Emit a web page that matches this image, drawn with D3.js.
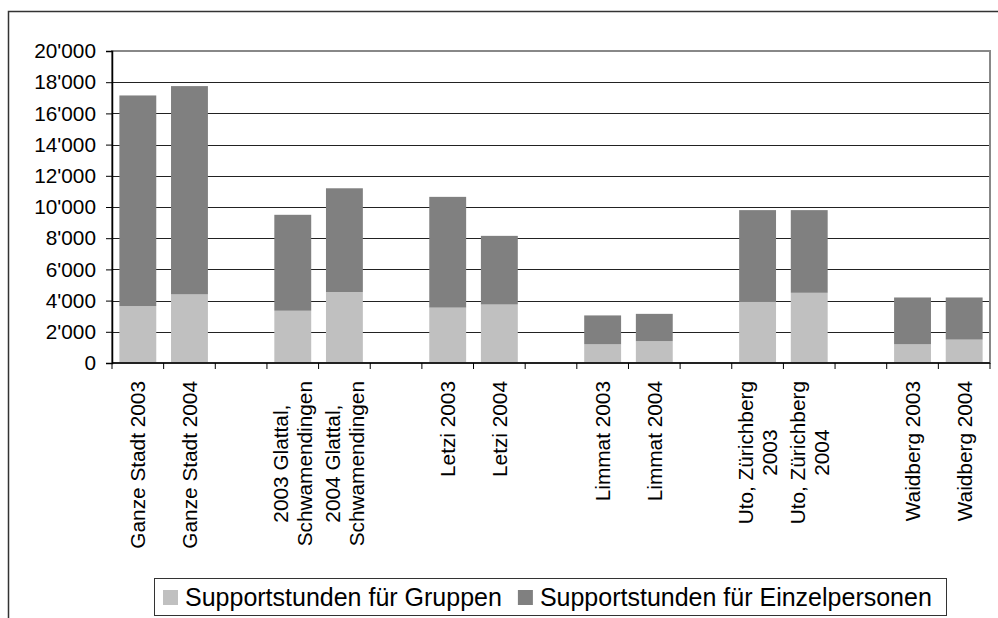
<!DOCTYPE html>
<html>
<head>
<meta charset="utf-8">
<script src="https://cdn.jsdelivr.net/npm/d3@7"></script>
<style>
  html, body { margin: 0; padding: 0; background: #fff; }
  svg { display: block; font-family: "Liberation Sans", Arial, sans-serif; }
</style>
</head>
<body>
<svg id="chart" width="998" height="618"></svg>
<script>
// Categories (empty strings are spacer slots between districts)
const categories = [
  "Ganze Stadt 2003", "Ganze Stadt 2004", "",
  "2003 Glattal,\nSchwamendingen", "2004 Glattal,\nSchwamendingen", "",
  "Letzi 2003", "Letzi 2004", "",
  "Limmat 2003", "Limmat 2004", "",
  "Uto, Zürichberg\n2003", "Uto, Zürichberg\n2004", "",
  "Waidberg 2003", "Waidberg 2004"
];
const gruppen = [3650, 4400, null, 3350, 4550, null, 3550, 3750, null, 1200, 1400, null, 3950, 4500, null, 1200, 1500];
const einzelpersonen = [13500, 13350, null, 6150, 6650, null, 7100, 4400, null, 1850, 1750, null, 5850, 5300, null, 3000, 2700];
const yTicks = [0, 2000, 4000, 6000, 8000, 10000, 12000, 14000, 16000, 18000, 20000];
const seriesNames = ["Supportstunden für Gruppen", "Supportstunden für Einzelpersonen"];
const seriesColors = ["#c0c0c0", "#808080"];

const svg = d3.select("#chart");
const plot = { left: 112, right: 990, top: 51, bottom: 363 };

// outer chart frame
svg.append("rect")
  .attr("x", 8.5).attr("y", 11.5).attr("width", 1010).attr("height", 640)
  .attr("fill", "none").attr("stroke", "#333").attr("stroke-width", 1.5);

const x = d3.scaleBand()
  .domain(d3.range(categories.length))
  .range([plot.left, plot.right])
  .paddingInner(0.4 / 1.4)
  .paddingOuter(0.2 / 1.4);
const slot = d3.scaleBand().domain(d3.range(categories.length)).range([plot.left, plot.right]);

const y = d3.scaleLinear().domain([0, 20000]).range([plot.bottom, plot.top]);

// gridlines
svg.append("g").selectAll("line").data(yTicks.slice(1, -1)).join("line")
  .attr("x1", plot.left).attr("x2", plot.right)
  .attr("y1", d => Math.round(y(d)) + 0.5).attr("y2", d => Math.round(y(d)) + 0.5)
  .attr("stroke", "#222").attr("stroke-width", 1);

// stacked bars
const rows = categories.map((c, i) => ({ i, g: gruppen[i], e: einzelpersonen[i] }))
  .filter(r => r.g != null);
const stack = d3.stack().keys(["g", "e"])(rows);
svg.append("g").selectAll("g").data(stack).join("g")
  .attr("fill", (d, k) => seriesColors[k])
  .selectAll("rect").data(d => d).join("rect")
  .attr("x", d => x(d.data.i))
  .attr("width", x.bandwidth())
  .attr("y", d => y(d[1]))
  .attr("height", d => y(d[0]) - y(d[1]));

// plot area border
svg.append("rect")
  .attr("x", plot.left).attr("y", plot.top)
  .attr("width", plot.right - plot.left).attr("height", plot.bottom - plot.top)
  .attr("fill", "none").attr("stroke", "#888").attr("stroke-width", 2);

// y axis
const yAxis = svg.append("g")
  .attr("transform", `translate(${plot.left},0)`)
  .call(d3.axisLeft(y).tickValues(yTicks).tickSize(6).tickPadding(10)
    .tickFormat(d => d3.format(",")(d).replace(/,/g, "'")));
yAxis.select(".domain").attr("stroke", "#000").attr("stroke-width", 1.5);
yAxis.selectAll(".tick line").attr("stroke", "#000");
yAxis.selectAll("text").attr("font-size", "20.8px").attr("fill", "#000")
  .attr("font-family", "'Liberation Sans', Arial, sans-serif");

// x axis: baseline and ticks at slot boundaries
const xg = svg.append("g");
xg.append("line")
  .attr("x1", plot.left).attr("x2", plot.right)
  .attr("y1", plot.bottom).attr("y2", plot.bottom)
  .attr("stroke", "#000").attr("stroke-width", 1.5);
const bounds = d3.range(categories.length + 1).map(i => i < categories.length ? slot(i) : plot.right);
xg.selectAll("line.tick").data(bounds).join("line").attr("class", "tick")
  .attr("x1", d => d).attr("x2", d => d)
  .attr("y1", plot.bottom).attr("y2", plot.bottom + 6)
  .attr("stroke", "#000").attr("stroke-width", 1);

// rotated category labels
const fs = 20.8, lh = 1.15;
xg.selectAll("text.cat").data(categories.map((c, i) => ({ c, i })).filter(d => d.c))
  .join("text").attr("class", "cat")
  .attr("transform", d => `translate(${slot(d.i) + slot.bandwidth() / 2},${plot.bottom + 18}) rotate(-90)`)
  .attr("font-size", fs + "px").attr("fill", "#000")
  .each(function (d) {
    const lines = d.c.split("\n");
    const t = d3.select(this);
    const n = lines.length;
    // lines center on the longest one, block top-aligned under the axis
    const tspans = lines.map((ln, k) => t.append("tspan").text(ln)
      .attr("x", 0).attr("dy", k === 0 ? (0.36 - (n - 1) * lh / 2) + "em" : lh + "em"));
    const lens = tspans.map(s => s.node().getComputedTextLength());
    const maxLen = d3.max(lens);
    tspans.forEach(s => s.attr("text-anchor", "middle").attr("x", -maxLen / 2));
  });

// legend
const lg = svg.append("g");
lg.append("rect")
  .attr("x", 154.5).attr("y", 578.5).attr("width", 792).attr("height", 37)
  .attr("fill", "#fff").attr("stroke", "#333").attr("stroke-width", 1);
let lx = 163;
seriesNames.forEach((name, k) => {
  lg.append("rect").attr("x", lx).attr("y", 590).attr("width", 15).attr("height", 15)
    .attr("fill", seriesColors[k]);
  const t = lg.append("text").attr("x", lx + 22).attr("y", 606)
    .attr("font-size", "25px").attr("fill", "#000").text(name);
  lx = lx + 22 + t.node().getComputedTextLength() + 16;
});
</script>
</body>
</html>
